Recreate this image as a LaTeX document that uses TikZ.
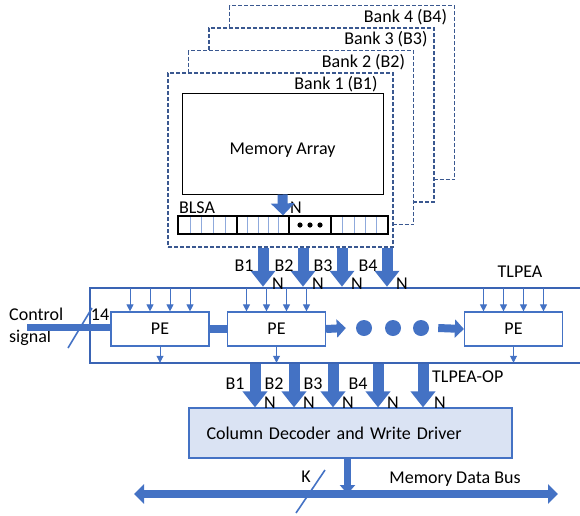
\documentclass[tikz,border=0pt]{standalone}
\usepackage{fontspec}
\setmainfont{Carlito}
\usetikzlibrary{arrows.meta,calc}
\definecolor{peblue}{HTML}{4472C4}
\definecolor{tlblue}{HTML}{3A64B4}
\definecolor{bankblue}{HTML}{3A5890}
\definecolor{cdfill}{HTML}{DAE3F3}
\definecolor{cellblue}{HTML}{8FAADC}

\begin{document}
\begin{tikzpicture}[x=1pt, y=-1pt, font=\fontsize{18}{22}\selectfont,
  every node/.style={inner sep=0pt},
  bank node/.style={draw=bankblue, line width=1.5pt, dash pattern=on 4pt off 2pt, fill=white, minimum width=225pt, minimum height=174pt},
  array node/.style={draw, line width=1pt, fill=white, minimum width=201pt, minimum height=101pt},
  pe node/.style={draw=peblue, line width=1.2pt, fill=white, minimum width=98pt, minimum height=34pt},
  dot node/.style={circle, fill=peblue, minimum size=16pt},
  fat arrow/.style={draw=peblue, line width=11pt, -{Triangle[width=24pt,length=16pt]}},
  link arrow/.style={draw=peblue, line width=8pt, -{Triangle[width=18pt,length=9pt]}},
  small arrow/.style={draw=peblue, line width=1pt, -{Triangle[width=7pt,length=7pt]}},
  bus arrow/.style={draw=peblue, line width=8pt, {Triangle[width=19pt,length=10pt]}-{Triangle[width=19pt,length=10pt]}},
  mark line/.style={draw=peblue, line width=1.6pt},
  cell line/.style={draw=cellblue, line width=0.6pt}]
\useasboundingbox (0,0) rectangle (580,515);

% the four banks
\foreach \i/\s in {4/8,3/7,2/9,1/16} {
  \node[bank node] (b\i) at ({280.5+20.5*(\i-1)},{160-22.5*(\i-1)}) {};
  \node[anchor=east] at ([xshift=-\s pt,yshift=-12pt]b\i.north east) {Bank \i\ (B\i)};
}
\node[array node] (ma) at (282.5,143.5) {};
\node at ([yshift=-7pt]ma.center) {Memory Array};
\node[draw, line width=1.2pt, fill=white, minimum width=210pt, minimum height=18pt] (blsa) at (283,225) {};
\foreach \a/\b in {178/237,237/289,331/388}
  \foreach \k in {1,...,4}
    \draw[cell line] ({\a+\k*(\b-\a)/5},217) -- ({\a+\k*(\b-\a)/5},233);
\foreach \x in {237,289,331} \draw[line width=1.2pt] (\x,216) -- (\x,234);
\foreach \x in {300,310,320} \fill (\x,225) circle (2.6pt);
\node at (197,208) {BLSA};
\node at (296,208) {N};
\draw[fat arrow, line width=10pt, -{Triangle[width=23pt,length=12pt]}] (ma.south) -- (blsa.north);

% TLPEA
\node[draw=tlblue, line width=2.5pt, minimum width=500pt, minimum height=75pt] (tl) at (340,325.5) {};
\node at (520,272) {TLPEA};
\node[pe node] (pe1) at (160,329) {PE};
\node[pe node] (pe2) at (276.5,329) {PE};
\node[pe node] (pe3) at (513.5,329) {PE};
\foreach \p in {pe1,pe2,pe3} {
  \foreach \d in {-30,-10,10,30}
    \draw[small arrow] ($(\p.north)+(\d,-23)$) -- ($(\p.north)+(\d,0)$);
  \draw[small arrow, shorten >=1.5pt] (\p.south) -- (\p.south |- tl.south);
}
\foreach \n/\x in {1/364,2/393,3/421} \node[dot node] (d\n) at (\x,328) {};
\draw[draw=peblue, line width=8pt] (pe1.east) -- (pe2.west);
\draw[link arrow] (pe2.east) -- ([xshift=-10pt]d1.west);
\draw[link arrow] ([xshift=9pt]d3.east) -- (pe3.west);

% control input
\node[anchor=west, align=left] (cs) at (9,327) {Control\\signal};
\coordinate (ctl) at (27,327);
\draw[draw=peblue, line width=7pt] (ctl) -- (ctl -| pe1.west);
\draw[mark line] (68,348) -- (92,308);
\node at (100,315) {14};

% bank outputs
\foreach \x/\n in {263/1,303/2,342/3,387/4}
  \draw[fat arrow] (\x,0 |- b1.south) -- (\x,0 |- tl.north)
    node[pos=0.45, xshift=-19pt] {B\n} node[at end, xshift=15pt, yshift=3pt] {N};

% column decoder
\node[draw=peblue, line width=1.2pt, fill=cdfill, minimum height=50pt, text width=288pt, inner xsep=17.5pt, align=left] (cd) at (350.5,433) {Column Decoder and Write Driver};
\foreach \x/\n in {255/1,294/2,333/3,378/4}
  \draw[fat arrow] (\x,0 |- tl.south) -- (\x,0 |- cd.north)
    node[pos=0.45, xshift=-20pt] {B\n} node[at end, xshift=15pt, yshift=5pt] {N};
\draw[fat arrow] (423,0 |- tl.south) -- (423,0 |- cd.north)
  node[at end, xshift=17pt, yshift=5pt] {N};
\node[anchor=west] at (432,377) {TLPEA-OP};

% data bus
\coordinate (bl) at (134,494);
\coordinate (br) at (558,494);
\draw[draw=peblue, line width=7pt, -{Triangle[width=15pt,length=9pt]}] ([xshift=-3pt]cd.south) -- ([xshift=-3pt]cd.south |- bl);
\draw[bus arrow] (bl) -- (br);
\draw[mark line] (296,513) -- (325,470);
\node at (306,477) {K};
\node at (455,479) {Memory Data Bus};
\end{tikzpicture}
\end{document}
